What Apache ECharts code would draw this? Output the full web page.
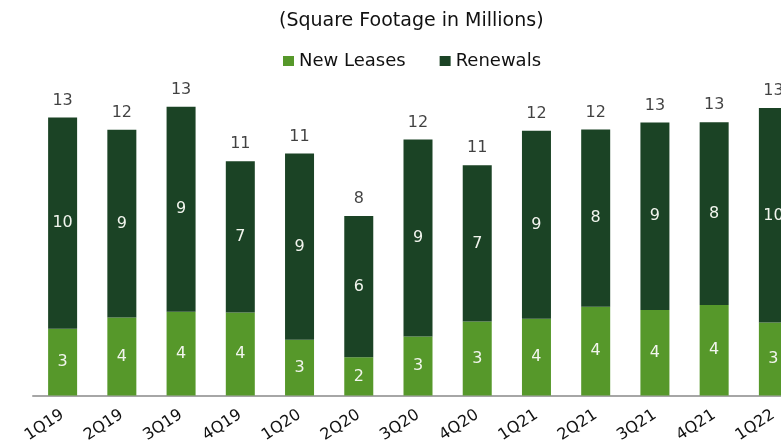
<!DOCTYPE html>
<html>
<head>
<meta charset="utf-8">
<script src="https://cdn.jsdelivr.net/npm/echarts@6/dist/echarts.min.js"></script>
<style>
  html, body { margin: 0; padding: 0; background: #fff; overflow: hidden; }
  /* the last bar is cut by the right edge in the original, so the canvas is a bit wider than the window */
  #chart { width: 810px; height: 442px; }
</style>
</head>
<body>
<div id="chart"></div>
<script>
// quarters shown on the x axis
var quarters = ['1Q19', '2Q19', '3Q19', '4Q19', '1Q20', '2Q20', '3Q20', '4Q20', '1Q21', '2Q21', '3Q21', '4Q21', '1Q22'];
// square footage in millions
var newLeases = [3.06, 3.57, 3.84, 3.80, 2.55, 1.75, 2.70, 3.39, 3.52, 4.07, 3.92, 4.15, 3.34];
var renewals  = [9.68, 8.61, 9.39, 6.94, 8.54, 6.48, 9.03, 7.16, 8.61, 8.12, 8.59, 8.37, 9.83];

var totals = [];
for (var i = 0; i < quarters.length; i++) {
  totals.push(+(newLeases[i] + renewals[i]).toFixed(2));
}

var font = 'DejaVu Sans, sans-serif';
var inLabel = {
  show: true,
  position: 'inside',
  color: '#f2f5ee',
  fontSize: 16,
  fontFamily: font,
  formatter: function (p) { return Math.round(p.value); }
};

var chart = echarts.init(document.getElementById('chart'));
chart.setOption({
  animation: false,
  title: {
    text: '(Square Footage in Millions)',
    left: 274,
    top: 7,
    textStyle: { fontSize: 19, fontWeight: 'normal', color: '#111', fontFamily: font }
  },
  legend: {
    data: ['New Leases', 'Renewals'],
    left: 278,
    top: 47,
    icon: 'rect',
    itemWidth: 11,
    itemHeight: 10,
    itemGap: 34,
    textStyle: { fontSize: 18, color: '#111', fontFamily: font, padding: [0, 0, 0, 0] }
  },
  grid: { left: 33, top: 90, width: 770, height: 305.5, outerBoundsMode: 'none', containLabel: false },
  xAxis: {
    type: 'category',
    data: quarters,
    axisLine: { lineStyle: { color: '#a6a6a6', width: 2 } },
    axisTick: { show: false },
    axisLabel: { rotate: 33, fontSize: 16, color: '#111', fontFamily: font, margin: 18, interval: 0 }
  },
  yAxis: {
    type: 'value',
    min: 0,
    max: 14,
    show: false,
    splitLine: { show: false }
  },
  series: [
    {
      name: 'New Leases',
      type: 'bar',
      stack: 'sf',
      barWidth: 29,
      data: newLeases,
      itemStyle: { color: '#56982a' },
      label: inLabel
    },
    {
      name: 'Renewals',
      type: 'bar',
      stack: 'sf',
      barWidth: 29,
      data: renewals,
      itemStyle: { color: '#1b4325' },
      label: inLabel
    },
    {
      name: 'Total',
      type: 'scatter',
      data: totals,
      symbolSize: 0,
      silent: true,
      label: {
        show: true,
        position: 'top',
        distance: 9,
        color: '#111',
        fontSize: 16,
        fontFamily: font,
        formatter: function (p) { return Math.round(p.value); }
      }
    }
  ]
});
</script>
</body>
</html>
